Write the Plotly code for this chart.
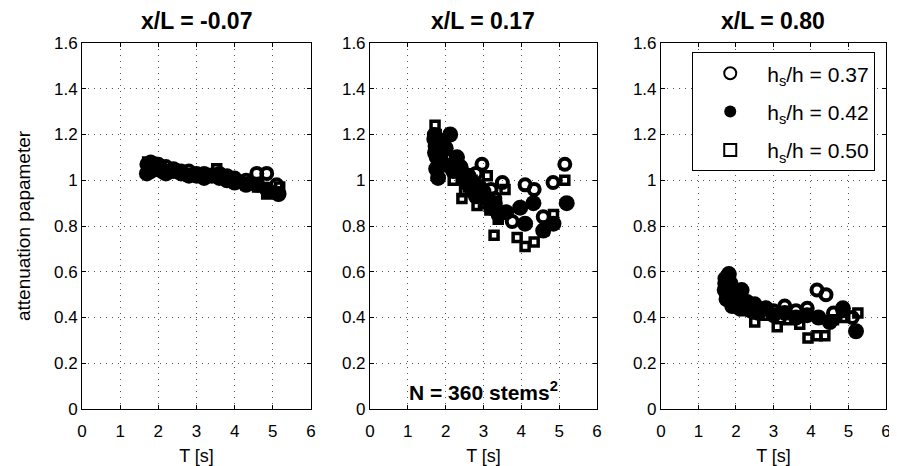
import plotly.graph_objects as go
from plotly.subplots import make_subplots

# ----------------------------------------------------------------------------
# data (T in s, attenuation parameter)

panel_titles = ["x/L = -0.07", "x/L = 0.17", "x/L = 0.80"]
series_names = ["h<sub>s</sub>/h = 0.37", "h<sub>s</sub>/h = 0.42", "h<sub>s</sub>/h = 0.50"]

# x/L = -0.07
p1_open_T = [1.7, 1.75, 1.8, 1.9, 2.0, 2.1, 2.2, 2.4, 2.6, 2.8, 3.0, 3.2, 3.4, 3.6, 3.8, 4.0, 4.3, 4.58, 4.84, 5.1]
p1_open_v = [1.07, 1.05, 1.08, 1.06, 1.07, 1.05, 1.06, 1.05, 1.04, 1.04, 1.03, 1.03, 1.02, 1.03, 1.02, 1.01, 1.0, 1.03, 1.03, 0.98]
p1_fill_T = [1.7, 1.75, 1.8, 1.9, 2.0, 2.1, 2.2, 2.4, 2.6, 2.8, 3.0, 3.2, 3.4, 3.6, 3.8, 4.0, 4.3, 4.6, 4.85, 5.15]
p1_fill_v = [1.03, 1.06, 1.04, 1.07, 1.05, 1.04, 1.03, 1.04, 1.03, 1.02, 1.02, 1.01, 1.02, 1.01, 1.0, 0.99, 0.98, 0.98, 0.96, 0.94]
p1_sq_T = [1.72, 1.78, 1.85, 1.95, 2.05, 2.2, 2.4, 2.6, 2.8, 3.0, 3.2, 3.35, 3.53, 3.7, 3.9, 4.1, 4.3, 4.6, 4.84, 5.18]
p1_sq_v = [1.08, 1.06, 1.05, 1.04, 1.06, 1.03, 1.05, 1.03, 1.02, 1.03, 1.02, 1.03, 1.05, 1.02, 1.01, 1.0, 0.98, 0.97, 0.94, 0.97]

# x/L = 0.17
p2_open_T = [1.7, 1.72, 1.75, 1.8, 1.85, 1.9, 2.0, 2.1, 2.2, 2.3, 2.4, 2.5, 2.6, 2.7, 2.8, 2.96, 3.0, 3.2, 3.3,
             3.5, 3.76, 4.1, 4.34, 4.58, 4.84, 5.15]
p2_open_v = [1.2, 1.15, 1.1, 1.18, 1.08, 1.12, 1.1, 1.06, 1.05, 1.04, 1.06, 1.02, 1.0, 0.98, 1.03, 1.07, 0.93, 0.96, 0.92,
             0.99, 0.82, 0.98, 0.96, 0.84, 0.99, 1.07]
p2_fill_T = [1.7, 1.72, 1.75, 1.8, 1.85, 1.9, 2.0, 2.12, 2.2, 2.3, 2.4, 2.5, 2.6, 2.7, 2.8, 2.9, 3.0, 3.1, 3.2, 3.3,
             3.4, 3.6, 3.97, 4.1, 4.32, 4.58, 4.85, 5.2]
p2_fill_v = [1.18, 1.12, 1.05, 1.01, 1.15, 1.08, 1.14, 1.2, 1.04, 1.1, 1.05, 1.0, 1.02, 0.96, 0.93, 0.97, 0.95, 0.92, 0.88,
             0.9, 0.85, 0.86, 0.88, 0.81, 0.9, 0.78, 0.81, 0.9]
p2_sq_T = [1.72, 1.75, 1.8, 1.9, 2.0, 2.2, 2.3, 2.43, 2.5, 2.6, 2.7, 2.83, 2.9, 3.0, 3.1, 3.17, 3.28, 3.39, 3.57,
           3.89, 4.1, 4.34, 4.6, 4.85, 5.15]
p2_sq_v = [1.24, 1.2, 1.15, 1.1, 1.06, 1.0, 1.05, 0.92, 0.95, 0.97, 1.0, 0.89, 0.93, 0.9, 1.02, 0.87, 0.76, 0.83, 0.96,
           0.75, 0.71, 0.73, 0.78, 0.85, 1.0]

# x/L = 0.80
p3_open_T = [1.7, 1.72, 1.75, 1.8, 1.85, 1.9, 2.0, 2.05, 2.1, 2.2, 2.3, 2.4, 2.5, 2.6, 2.8, 3.0, 3.3, 3.6, 3.9,
             4.16, 4.4, 4.6, 4.85, 5.1]
p3_open_v = [0.55, 0.57, 0.5, 0.53, 0.52, 0.48, 0.5, 0.48, 0.47, 0.46, 0.47, 0.45, 0.46, 0.44, 0.44, 0.43, 0.45, 0.43, 0.44,
             0.52, 0.5, 0.42, 0.43, 0.4]
p3_fill_T = [1.7, 1.72, 1.75, 1.78, 1.81, 1.85, 1.9, 1.95, 2.0, 2.05, 2.1, 2.15, 2.2, 2.3, 2.4, 2.5, 2.6, 2.8, 3.0,
             3.3, 3.6, 3.9, 4.2, 4.5, 4.85, 5.2]
p3_fill_v = [0.52, 0.57, 0.48, 0.53, 0.59, 0.55, 0.45, 0.5, 0.5, 0.47, 0.44, 0.52, 0.47, 0.45, 0.43, 0.45, 0.42, 0.44, 0.41,
             0.42, 0.4, 0.41, 0.4, 0.38, 0.44, 0.34]
p3_sq_T = [1.72, 1.8, 1.9, 2.0, 2.2, 2.5, 2.8, 3.1, 3.4, 3.7, 3.92, 4.16, 4.37, 4.6, 4.9, 5.25]
p3_sq_v = [0.55, 0.5, 0.47, 0.45, 0.43, 0.38, 0.41, 0.36, 0.39, 0.37, 0.31, 0.32, 0.32, 0.39, 0.4, 0.42]

y_ticks = [0, 0.2, 0.4, 0.6, 0.8, 1.0, 1.2, 1.4, 1.6]
y_tick_labels = ["0", "0.2", "0.4", "0.6", "0.8", "1", "1.2", "1.4", "1.6"]
x_ticks = [0, 1, 2, 3, 4, 5, 6]

panels = [
    [(p1_open_T, p1_open_v), (p1_fill_T, p1_fill_v), (p1_sq_T, p1_sq_v)],
    [(p2_open_T, p2_open_v), (p2_fill_T, p2_fill_v), (p2_sq_T, p2_sq_v)],
    [(p3_open_T, p3_open_v), (p3_fill_T, p3_fill_v), (p3_sq_T, p3_sq_v)],
]

# ----------------------------------------------------------------------------

FONT = "Liberation Sans, Arial, sans-serif"

fig = make_subplots(rows=1, cols=3)

# marker styles: open circle, filled circle, open square
styles = [
    dict(symbol="circle-open", size=11, color="black", line=dict(width=4, color="black")),
    dict(symbol="circle", size=16, color="black", line=dict(width=0)),
    dict(symbol="square-open", size=8, color="black", line=dict(width=3.5, color="black")),
]

for i, panel in enumerate(panels):
    for j, (T, v) in enumerate(panel):
        fig.add_trace(
            go.Scatter(
                x=T, y=v, mode="markers",
                name=series_names[j],
                marker=styles[j],
                showlegend=(i == 2),
                legendgroup=str(j),
            ),
            row=1, col=i + 1,
        )

# domains in paper coords (plot area spans 74..878 px of the figure)
domains = [[0.0, 0.2848], [0.3582, 0.6405], [0.7201, 1.0]]

axis_common = dict(
    showline=True, linecolor="black", linewidth=1, mirror="ticks",
    ticks="inside", ticklen=4, tickcolor="black",
    showgrid=True, gridcolor="#555", griddash="1px,5px", gridwidth=1,
    zeroline=False, automargin=False,
    tickfont=dict(family=FONT, size=17, color="black"),
)

for i in range(3):
    fig.update_xaxes(
        domain=domains[i], range=[0, 6], tickvals=x_ticks, ticklabelstandoff=7,
        title=dict(text="T [s]", font=dict(family=FONT, size=18, color="black"), standoff=8),
        row=1, col=i + 1, **axis_common,
    )
    fig.update_yaxes(
        range=[0, 1.6], tickvals=y_ticks, ticktext=y_tick_labels,
        row=1, col=i + 1, **axis_common,
    )

fig.update_yaxes(
    title=dict(text="attenuation papameter", font=dict(family=FONT, size=19, color="black"), standoff=18),
    row=1, col=1,
)

# panel titles
for i, t in enumerate(panel_titles):
    fig.add_annotation(
        x=sum(domains[i]) / 2, y=1, xref="paper", yref="paper",
        xanchor="center", yanchor="bottom", yshift=7,
        text="<b>%s</b>" % t, showarrow=False,
        font=dict(family=FONT, size=23, color="black"),
    )

fig.add_annotation(
    x=3, y=0.015, xref="x2", yref="y2", xanchor="center", yanchor="bottom",
    text="<b>N = 360 stems<sup>2</sup></b>", showarrow=False,
    font=dict(family=FONT, size=21, color="black"),
)

# the page adds an 8px body margin, so the figure is drawn 8px smaller
fig.update_layout(
    width=889, height=458,
    margin=dict(l=74, r=11, t=35, b=57, autoexpand=False),
    plot_bgcolor="white", paper_bgcolor="white",
    font=dict(family=FONT, color="black"),
    legend=dict(
        x=0.759, y=0.975, xanchor="left", yanchor="top",
        bgcolor="white", bordercolor="black", borderwidth=1,
        font=dict(family=FONT, size=21, color="black"),
        tracegroupgap=8, itemsizing="constant", itemwidth=64,
    ),
)

fig.write_html("out.html")
